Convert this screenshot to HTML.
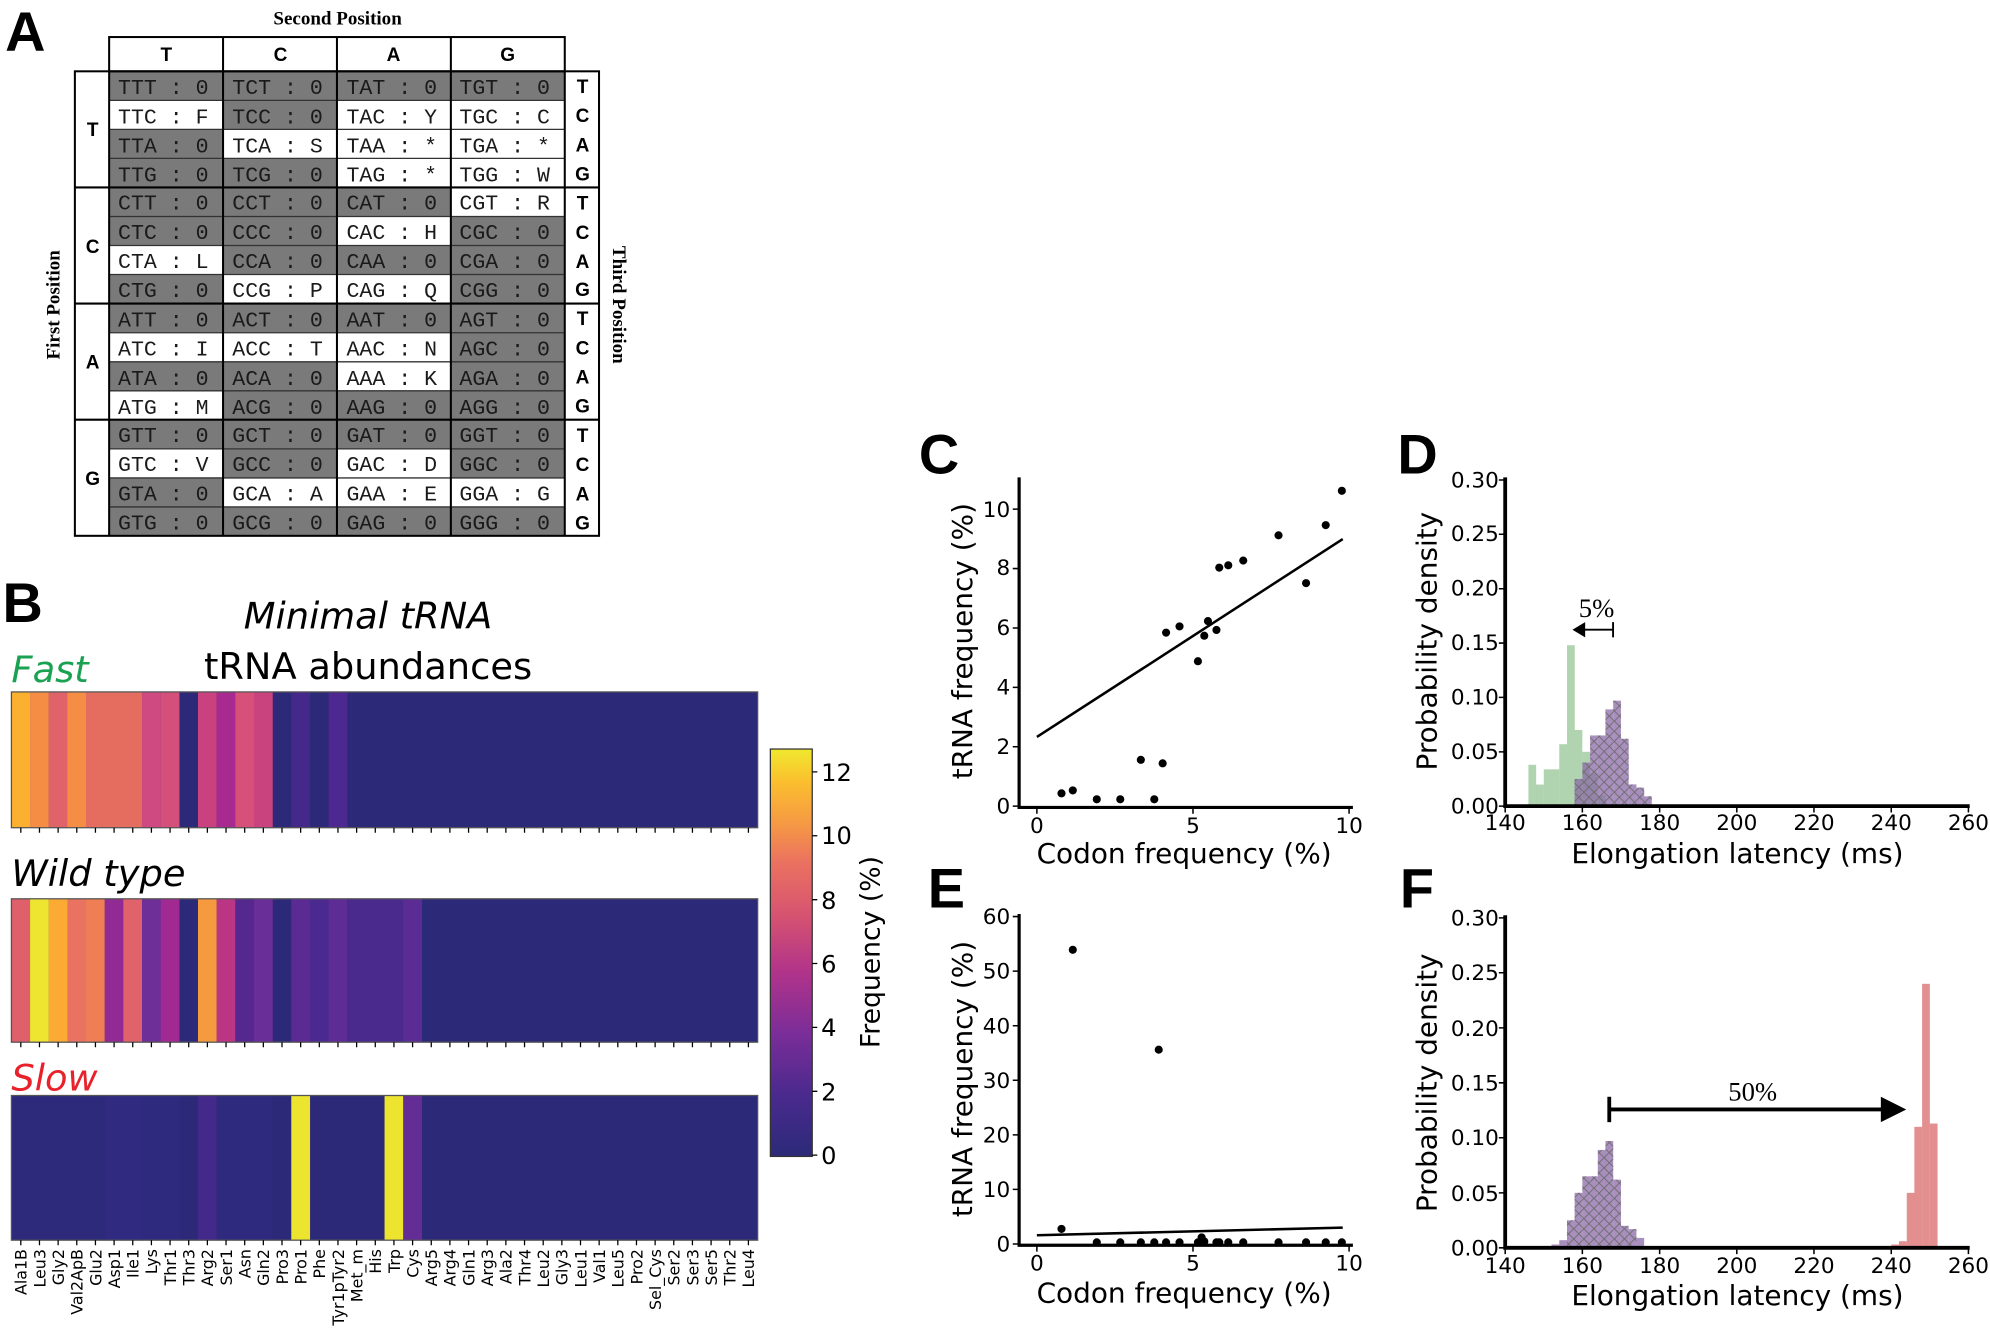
<!DOCTYPE html>
<html><head><meta charset="utf-8"><style>
html,body{margin:0;padding:0;background:#fff;}
svg{display:block;}
.m{font-family:"Liberation Mono",monospace;font-size:17px;fill:#1a1a1a;}
.b{font-family:"Liberation Sans",sans-serif;font-weight:bold;font-size:15px;}
.d{font-family:"DejaVu Sans","Liberation Sans",sans-serif;}
.lab{font-family:"Liberation Sans",sans-serif;font-weight:bold;font-size:44px;}
</style></head><body>
<svg width="1990" height="1328" viewBox="0 0 1568 1046" xmlns="http://www.w3.org/2000/svg">
<defs>
<pattern id="h" width="8" height="8" patternUnits="userSpaceOnUse">
<path d="M0,0L8,8M8,0L0,8" stroke="#6a6a6a" stroke-width="0.7"/>
</pattern>
<linearGradient id="cb" x1="0" y1="1" x2="0" y2="0">
<stop offset="0" stop-color="#2c2a78"/><stop offset="0.15" stop-color="#4a2a8e"/><stop offset="0.3" stop-color="#7a2d98"/><stop offset="0.45" stop-color="#b0338a"/><stop offset="0.6" stop-color="#d8556f"/><stop offset="0.72" stop-color="#ea7160"/><stop offset="0.82" stop-color="#f69a43"/><stop offset="0.92" stop-color="#fbbf2e"/><stop offset="1" stop-color="#f0e82e"/>
</linearGradient>
</defs>
<rect width="1568" height="1046" fill="#fff"/>

<!-- Panel A -->
<text x="4" y="40" class="lab">A</text>
<text x="266" y="19" text-anchor="middle" font-family="Liberation Serif,serif" font-weight="bold" font-size="15">Second Position</text>
<g fill="#7a7a7a">
<!-- gray cells -->
<rect x="86" y="56" width="359" height="366"/>
</g>
<g fill="#fff">
<!-- white cells: col x, row y -->
<rect x="86" y="78.9" width="89.75" height="22.9"/>
<rect x="175.75" y="101.75" width="89.75" height="22.9"/>
<rect x="265.5" y="78.9" width="89.75" height="68.6"/>
<rect x="355.25" y="78.9" width="89.75" height="68.6"/>
<rect x="86" y="193.25" width="89.75" height="22.9"/>
<rect x="175.75" y="216.1" width="89.75" height="22.9"/>
<rect x="265.5" y="170.4" width="89.75" height="22.9"/>
<rect x="265.5" y="216.1" width="89.75" height="22.9"/>
<rect x="355.25" y="147.5" width="89.75" height="22.9"/>
<rect x="86" y="262" width="89.75" height="22.9"/>
<rect x="86" y="307.75" width="89.75" height="22.9"/>
<rect x="175.75" y="262" width="89.75" height="22.9"/>
<rect x="265.5" y="262" width="89.75" height="45.75"/>
<rect x="86" y="353.5" width="89.75" height="22.9"/>
<rect x="175.75" y="376.4" width="89.75" height="22.9"/>
<rect x="265.5" y="353.5" width="89.75" height="45.75"/>
<rect x="355.25" y="376.4" width="89.75" height="22.9"/>
</g>
<g stroke="#333" stroke-width="1">
<line x1="86" y1="78.9" x2="445" y2="78.9"/><line x1="86" y1="101.75" x2="445" y2="101.75"/><line x1="86" y1="124.6" x2="445" y2="124.6"/>
<line x1="86" y1="170.4" x2="445" y2="170.4"/><line x1="86" y1="193.25" x2="445" y2="193.25"/><line x1="86" y1="216.1" x2="445" y2="216.1"/>
<line x1="86" y1="262" x2="445" y2="262"/><line x1="86" y1="284.9" x2="445" y2="284.9"/><line x1="86" y1="307.75" x2="445" y2="307.75"/>
<line x1="86" y1="353.5" x2="445" y2="353.5"/><line x1="86" y1="376.4" x2="445" y2="376.4"/><line x1="86" y1="399.25" x2="445" y2="399.25"/>
</g>
<g stroke="#000" stroke-width="1.6" fill="none">
<rect x="86" y="29" width="359" height="27"/>
<line x1="175.75" y1="29" x2="175.75" y2="422"/><line x1="265.5" y1="29" x2="265.5" y2="422"/><line x1="355.25" y1="29" x2="355.25" y2="422"/>
<rect x="59" y="56" width="413" height="366"/>
<line x1="86" y1="56" x2="86" y2="422"/><line x1="445" y1="56" x2="445" y2="422"/>
<line x1="59" y1="147.5" x2="472" y2="147.5"/><line x1="59" y1="239" x2="472" y2="239"/><line x1="59" y1="330.5" x2="472" y2="330.5"/>
</g>
<g class="b" text-anchor="middle">
<text x="131" y="48">T</text><text x="221" y="48">C</text><text x="310" y="48">A</text><text x="400" y="48">G</text>
<text x="73" y="107">T</text><text x="73" y="199">C</text><text x="73" y="290">A</text><text x="73" y="382">G</text>
<text x="459" y="73">T</text><text x="459" y="96">C</text><text x="459" y="119">A</text><text x="459" y="142">G</text>
<text x="459" y="165">T</text><text x="459" y="188">C</text><text x="459" y="211">A</text><text x="459" y="233">G</text>
<text x="459" y="256">T</text><text x="459" y="279">C</text><text x="459" y="302">A</text><text x="459" y="325">G</text>
<text x="459" y="348">T</text><text x="459" y="371">C</text><text x="459" y="394">A</text><text x="459" y="417">G</text>
</g>
<text transform="translate(47,240) rotate(-90)" text-anchor="middle" font-family="Liberation Serif,serif" font-weight="bold" font-size="15">First Position</text>
<text transform="translate(483,240) rotate(90)" text-anchor="middle" font-family="Liberation Serif,serif" font-weight="bold" font-size="15">Third Position</text>
<g class="m" xml:space="preserve">
<text x="93" y="74">TTT : 0</text><text x="183" y="74">TCT : 0</text><text x="273" y="74">TAT : 0</text><text x="362" y="74">TGT : 0</text>
<text x="93" y="97">TTC : F</text><text x="183" y="97">TCC : 0</text><text x="273" y="97">TAC : Y</text><text x="362" y="97">TGC : C</text>
<text x="93" y="120">TTA : 0</text><text x="183" y="120">TCA : S</text><text x="273" y="120">TAA : *</text><text x="362" y="120">TGA : *</text>
<text x="93" y="143">TTG : 0</text><text x="183" y="143">TCG : 0</text><text x="273" y="143">TAG : *</text><text x="362" y="143">TGG : W</text>
<text x="93" y="165">CTT : 0</text><text x="183" y="165">CCT : 0</text><text x="273" y="165">CAT : 0</text><text x="362" y="165">CGT : R</text>
<text x="93" y="188">CTC : 0</text><text x="183" y="188">CCC : 0</text><text x="273" y="188">CAC : H</text><text x="362" y="188">CGC : 0</text>
<text x="93" y="211">CTA : L</text><text x="183" y="211">CCA : 0</text><text x="273" y="211">CAA : 0</text><text x="362" y="211">CGA : 0</text>
<text x="93" y="234">CTG : 0</text><text x="183" y="234">CCG : P</text><text x="273" y="234">CAG : Q</text><text x="362" y="234">CGG : 0</text>
<text x="93" y="257">ATT : 0</text><text x="183" y="257">ACT : 0</text><text x="273" y="257">AAT : 0</text><text x="362" y="257">AGT : 0</text>
<text x="93" y="280">ATC : I</text><text x="183" y="280">ACC : T</text><text x="273" y="280">AAC : N</text><text x="362" y="280">AGC : 0</text>
<text x="93" y="303">ATA : 0</text><text x="183" y="303">ACA : 0</text><text x="273" y="303">AAA : K</text><text x="362" y="303">AGA : 0</text>
<text x="93" y="326">ATG : M</text><text x="183" y="326">ACG : 0</text><text x="273" y="326">AAG : 0</text><text x="362" y="326">AGG : 0</text>
<text x="93" y="348">GTT : 0</text><text x="183" y="348">GCT : 0</text><text x="273" y="348">GAT : 0</text><text x="362" y="348">GGT : 0</text>
<text x="93" y="371">GTC : V</text><text x="183" y="371">GCC : 0</text><text x="273" y="371">GAC : D</text><text x="362" y="371">GGC : 0</text>
<text x="93" y="394">GTA : 0</text><text x="183" y="394">GCA : A</text><text x="273" y="394">GAA : E</text><text x="362" y="394">GGA : G</text>
<text x="93" y="417">GTG : 0</text><text x="183" y="417">GCG : 0</text><text x="273" y="417">GAG : 0</text><text x="362" y="417">GGG : 0</text>
</g>

<!-- Panel B -->
<text x="2" y="490" class="lab">B</text>
<text x="290" y="495" text-anchor="middle" class="d" font-size="29" font-style="italic">Minimal tRNA</text>
<text x="290" y="535" text-anchor="middle" class="d" font-size="29">tRNA abundances</text>
<text x="9" y="537" class="d" font-size="29" font-style="italic" fill="#1aa152">Fast</text>
<text x="9" y="698" class="d" font-size="29" font-style="italic">Wild type</text>
<text x="9" y="859" class="d" font-size="29" font-style="italic" fill="#e8212b">Slow</text>

<!-- heatmap 1 -->
<g transform="translate(9,545)">
<rect width="588" height="107" fill="#2c2a78"/>
<rect x="0" width="14.8" height="107" fill="#fbb02f"/>
<rect x="14.7" width="14.8" height="107" fill="#f58d45"/>
<rect x="29.4" width="14.8" height="107" fill="#e0636a"/>
<rect x="44.1" width="14.8" height="107" fill="#f58d45"/>
<rect x="58.8" width="44.2" height="107" fill="#e56d60"/>
<rect x="102.9" width="14.8" height="107" fill="#ce4a80"/>
<rect x="117.6" width="14.8" height="107" fill="#d4507a"/>
<rect x="147" width="14.8" height="107" fill="#c9427f"/>
<rect x="161.7" width="14.8" height="107" fill="#a82a90"/>
<rect x="176.4" width="14.8" height="107" fill="#d6507a"/>
<rect x="191.1" width="14.8" height="107" fill="#c9437f"/>
<rect x="220.5" width="14.8" height="107" fill="#44288a"/>
<rect x="249.9" width="14.8" height="107" fill="#4c2890"/>
<rect width="588" height="107" fill="none" stroke="#555" stroke-width="1"/>
</g>
<!-- heatmap 2 -->
<g transform="translate(9,708)">
<rect width="588" height="113" fill="#2c2a78"/>
<rect x="0" width="14.8" height="113" fill="#df5f6a"/>
<rect x="14.7" width="14.8" height="113" fill="#eee531"/>
<rect x="29.4" width="14.8" height="113" fill="#fbaa33"/>
<rect x="44.1" width="14.8" height="113" fill="#ea7260"/>
<rect x="58.8" width="14.8" height="113" fill="#ef7e55"/>
<rect x="73.5" width="14.8" height="113" fill="#912a95"/>
<rect x="88.2" width="14.8" height="113" fill="#e0626a"/>
<rect x="102.9" width="14.8" height="113" fill="#6f2f98"/>
<rect x="117.6" width="14.8" height="113" fill="#a12a92"/>
<rect x="147" width="14.8" height="113" fill="#f69a40"/>
<rect x="161.7" width="14.8" height="113" fill="#bb3585"/>
<rect x="176.4" width="14.8" height="113" fill="#54288e"/>
<rect x="191.1" width="14.8" height="113" fill="#6a2e98"/>
<rect x="220.5" width="14.8" height="113" fill="#5b2a93"/>
<rect x="235.2" width="14.8" height="113" fill="#4a2a8e"/>
<rect x="249.9" width="14.8" height="113" fill="#5e2c95"/>
<rect x="264.6" width="44.2" height="113" fill="#4a2b8d"/>
<rect x="308.7" width="14.8" height="113" fill="#5b2c94"/>
<rect width="588" height="113" fill="none" stroke="#555" stroke-width="1"/>
</g>
<!-- heatmap 3 -->
<g transform="translate(9,863)">
<rect width="588" height="114" fill="#2c2a78"/>
<rect x="0" width="73.5" height="114" fill="#2d2a7c"/>
<rect x="73.5" width="29.4" height="114" fill="#302a80"/>
<rect x="102.9" width="29.4" height="114" fill="#2e2a7d"/>
<rect x="147" width="14.8" height="114" fill="#43298a"/>
<rect x="161.7" width="44" height="114" fill="#2e2a7e"/>
<rect x="220.5" width="14.8" height="114" fill="#ece42f"/>
<rect x="294" width="14.8" height="114" fill="#ece42f"/>
<rect x="308.7" width="14.8" height="114" fill="#642d96"/>
<rect width="588" height="114" fill="none" stroke="#555" stroke-width="1"/>
</g>
<!-- ticks -->
<g stroke="#000" stroke-width="1" id="tk">
<path d="M16.4,652v4M31.1,652v4M45.8,652v4M60.5,652v4M75.2,652v4M89.9,652v4M104.6,652v4M119.3,652v4M134,652v4M148.7,652v4M163.4,652v4M178.1,652v4M192.8,652v4M207.5,652v4M222.2,652v4M236.9,652v4M251.6,652v4M266.3,652v4M281,652v4M295.7,652v4M310.4,652v4M325.1,652v4M339.8,652v4M354.5,652v4M369.2,652v4M383.9,652v4M398.6,652v4M413.3,652v4M428,652v4M442.7,652v4M457.4,652v4M472.1,652v4M486.8,652v4M501.5,652v4M516.2,652v4M530.9,652v4M545.6,652v4M560.3,652v4M575,652v4M589.7,652v4"/>
<path transform="translate(0,169)" d="M16.4,652v4M31.1,652v4M45.8,652v4M60.5,652v4M75.2,652v4M89.9,652v4M104.6,652v4M119.3,652v4M134,652v4M148.7,652v4M163.4,652v4M178.1,652v4M192.8,652v4M207.5,652v4M222.2,652v4M236.9,652v4M251.6,652v4M266.3,652v4M281,652v4M295.7,652v4M310.4,652v4M325.1,652v4M339.8,652v4M354.5,652v4M369.2,652v4M383.9,652v4M398.6,652v4M413.3,652v4M428,652v4M442.7,652v4M457.4,652v4M472.1,652v4M486.8,652v4M501.5,652v4M516.2,652v4M530.9,652v4M545.6,652v4M560.3,652v4M575,652v4M589.7,652v4"/>
<path transform="translate(0,325)" d="M16.4,652v4M31.1,652v4M45.8,652v4M60.5,652v4M75.2,652v4M89.9,652v4M104.6,652v4M119.3,652v4M134,652v4M148.7,652v4M163.4,652v4M178.1,652v4M192.8,652v4M207.5,652v4M222.2,652v4M236.9,652v4M251.6,652v4M266.3,652v4M281,652v4M295.7,652v4M310.4,652v4M325.1,652v4M339.8,652v4M354.5,652v4M369.2,652v4M383.9,652v4M398.6,652v4M413.3,652v4M428,652v4M442.7,652v4M457.4,652v4M472.1,652v4M486.8,652v4M501.5,652v4M516.2,652v4M530.9,652v4M545.6,652v4M560.3,652v4M575,652v4M589.7,652v4"/>
</g>
<g class="d" font-size="12.5" text-anchor="end">
<text transform="translate(21,984) rotate(-90)">Ala1B</text>
<text transform="translate(35.7,984) rotate(-90)">Leu3</text>
<text transform="translate(50.4,984) rotate(-90)">Gly2</text>
<text transform="translate(65.1,984) rotate(-90)">Val2ApB</text>
<text transform="translate(79.8,984) rotate(-90)">Glu2</text>
<text transform="translate(94.5,984) rotate(-90)">Asp1</text>
<text transform="translate(109.2,984) rotate(-90)">Ile1</text>
<text transform="translate(123.9,984) rotate(-90)">Lys</text>
<text transform="translate(138.6,984) rotate(-90)">Thr1</text>
<text transform="translate(153.3,984) rotate(-90)">Thr3</text>
<text transform="translate(168,984) rotate(-90)">Arg2</text>
<text transform="translate(182.7,984) rotate(-90)">Ser1</text>
<text transform="translate(197.4,984) rotate(-90)">Asn</text>
<text transform="translate(212.1,984) rotate(-90)">Gln2</text>
<text transform="translate(226.8,984) rotate(-90)">Pro3</text>
<text transform="translate(241.5,984) rotate(-90)">Pro1</text>
<text transform="translate(256.2,984) rotate(-90)">Phe</text>
<text transform="translate(270.9,984) rotate(-90)">Tyr1pTyr2</text>
<text transform="translate(285.6,984) rotate(-90)">Met_m</text>
<text transform="translate(300.3,984) rotate(-90)">His</text>
<text transform="translate(315,984) rotate(-90)">Trp</text>
<text transform="translate(329.7,984) rotate(-90)">Cys</text>
<text transform="translate(344.4,984) rotate(-90)">Arg5</text>
<text transform="translate(359.1,984) rotate(-90)">Arg4</text>
<text transform="translate(373.8,984) rotate(-90)">Gln1</text>
<text transform="translate(388.5,984) rotate(-90)">Arg3</text>
<text transform="translate(403.2,984) rotate(-90)">Ala2</text>
<text transform="translate(417.9,984) rotate(-90)">Thr4</text>
<text transform="translate(432.6,984) rotate(-90)">Leu2</text>
<text transform="translate(447.3,984) rotate(-90)">Gly3</text>
<text transform="translate(462,984) rotate(-90)">Leu1</text>
<text transform="translate(476.7,984) rotate(-90)">Val1</text>
<text transform="translate(491.4,984) rotate(-90)">Leu5</text>
<text transform="translate(506.1,984) rotate(-90)">Pro2</text>
<text transform="translate(520.8,984) rotate(-90)">Sel_Cys</text>
<text transform="translate(535.5,984) rotate(-90)">Ser2</text>
<text transform="translate(550.2,984) rotate(-90)">Ser3</text>
<text transform="translate(564.9,984) rotate(-90)">Ser5</text>
<text transform="translate(579.6,984) rotate(-90)">Thr2</text>
<text transform="translate(594.3,984) rotate(-90)">Leu4</text>
</g>
<!-- colorbar -->
<rect x="607" y="590" width="33" height="321" fill="url(#cb)" stroke="#333" stroke-width="1"/>
<g stroke="#000" stroke-width="1"><path d="M640,910h4M640,859.7h4M640,809.3h4M640,759h4M640,708.7h4M640,658.3h4M640,608h4"/></g>
<g class="d" font-size="19">
<text x="647" y="917">0</text><text x="647" y="867">2</text><text x="647" y="816">4</text><text x="647" y="766">6</text><text x="647" y="716">8</text><text x="647" y="665">10</text><text x="647" y="615">12</text>
</g>
<text transform="translate(693,750) rotate(-90)" text-anchor="middle" class="d" font-size="21">Frequency (%)</text>

<!-- Panel C -->
<text x="724" y="373" class="lab">C</text>
<g stroke="#000" stroke-width="2.5" fill="none"><path d="M803,376V636H1066"/></g>
<g stroke="#000" stroke-width="1.2"><path d="M817,636v5M940,636v5M1063,636v5M803,635h-5M803,588.2h-5M803,541.4h-5M803,494.6h-5M803,447.8h-5M803,401h-5"/></g>
<g class="d" font-size="17" text-anchor="middle"><text x="817" y="656">0</text><text x="940" y="656">5</text><text x="1063" y="656">10</text></g>
<g class="d" font-size="17" text-anchor="end"><text x="796" y="641">0</text><text x="796" y="594">2</text><text x="796" y="547">4</text><text x="796" y="500">6</text><text x="796" y="453">8</text><text x="796" y="407">10</text></g>
<text x="933" y="680" text-anchor="middle" class="d" font-size="22">Codon frequency (%)</text>
<text transform="translate(766,505) rotate(-90)" text-anchor="middle" class="d" font-size="22">tRNA frequency (%)</text>
<line x1="817" y1="580.5" x2="1058" y2="424.6" stroke="#000" stroke-width="2"/>
<g fill="#000">
<circle cx="836.4" cy="624.9" r="3.2"/><circle cx="845.3" cy="622.6" r="3.2"/><circle cx="864.2" cy="629.6" r="3.2"/><circle cx="882.7" cy="629.6" r="3.2"/><circle cx="898.9" cy="598.5" r="3.2"/><circle cx="909.5" cy="629.6" r="3.2"/><circle cx="916.1" cy="601.3" r="3.2"/><circle cx="918.8" cy="498.3" r="3.2"/><circle cx="929.4" cy="493.4" r="3.2"/><circle cx="943.9" cy="520.8" r="3.2"/><circle cx="948.9" cy="500.7" r="3.2"/><circle cx="951.8" cy="489.2" r="3.2"/><circle cx="958.5" cy="496.2" r="3.2"/><circle cx="960.7" cy="447.1" r="3.2"/><circle cx="967.8" cy="445.2" r="3.2"/><circle cx="979.6" cy="441.5" r="3.2"/><circle cx="1007.4" cy="421.6" r="3.2"/><circle cx="1029.1" cy="459.3" r="3.2"/><circle cx="1044.6" cy="413.6" r="3.2"/><circle cx="1057.3" cy="386.5" r="3.2"/>
</g>

<!-- Panel E -->
<text x="731" y="715" class="lab">E</text>
<g stroke="#000" stroke-width="2.5" fill="none"><path d="M803,720V981H1066"/></g>
<g stroke="#000" stroke-width="1.2"><path d="M817,981v5M940,981v5M1063,981v5M803,980h-5M803,937h-5M803,894h-5M803,851h-5M803,808h-5M803,765h-5M803,722h-5"/></g>
<g class="d" font-size="17" text-anchor="middle"><text x="817" y="1001">0</text><text x="940" y="1001">5</text><text x="1063" y="1001">10</text></g>
<g class="d" font-size="17" text-anchor="end"><text x="796" y="986">0</text><text x="796" y="943">10</text><text x="796" y="900">20</text><text x="796" y="857">30</text><text x="796" y="814">40</text><text x="796" y="771">50</text><text x="796" y="728">60</text></g>
<text x="933" y="1026" text-anchor="middle" class="d" font-size="22">Codon frequency (%)</text>
<text transform="translate(766,850) rotate(-90)" text-anchor="middle" class="d" font-size="22">tRNA frequency (%)</text>
<line x1="817" y1="973.1" x2="1058" y2="967.1" stroke="#000" stroke-width="2"/>
<g fill="#000">
<circle cx="836.4" cy="968.1" r="3.2"/><circle cx="845.3" cy="748.2" r="3.2"/><circle cx="913" cy="826.9" r="3.2"/>
<circle cx="864.2" cy="978.7" r="3.2"/><circle cx="882.7" cy="978.7" r="3.2"/><circle cx="898.9" cy="978.7" r="3.2"/><circle cx="909.5" cy="978.7" r="3.2"/><circle cx="918.8" cy="978.7" r="3.2"/><circle cx="929.4" cy="978.7" r="3.2"/><circle cx="943.9" cy="978.7" r="3.2"/><circle cx="948.9" cy="978" r="3.2"/><circle cx="946.8" cy="974.8" r="3.2"/><circle cx="958.5" cy="978.7" r="3.2"/><circle cx="960.7" cy="978.7" r="3.2"/><circle cx="967.8" cy="978.7" r="3.2"/><circle cx="979.6" cy="978.7" r="3.2"/><circle cx="1007.4" cy="978.7" r="3.2"/><circle cx="1029.1" cy="978.7" r="3.2"/><circle cx="1044.6" cy="978.7" r="3.2"/><circle cx="1057.3" cy="978.7" r="3.2"/>
</g>

<!-- Panel D -->
<text x="1101" y="373" class="lab">D</text>
<g fill="#8fc08f" fill-opacity="0.7">
<rect x="1204.3" y="602.4" width="6.1" height="32.6"/><rect x="1210.3" y="618" width="6.1" height="17"/><rect x="1216.4" y="606" width="6.1" height="29"/><rect x="1222.5" y="606" width="6.1" height="29"/><rect x="1228.6" y="586.2" width="6.1" height="48.8"/><rect x="1234.7" y="508.2" width="6.1" height="126.8"/><rect x="1240.7" y="575" width="6.1" height="60"/><rect x="1246.8" y="592.2" width="6.1" height="42.8"/><rect x="1252.9" y="609.3" width="6.1" height="25.7"/><rect x="1259" y="626.4" width="6.1" height="8.6"/>
</g>
<g id="pur">
<g fill="#8c6aa8" fill-opacity="0.75">
<rect x="1240.7" y="613.6" width="6.1" height="21.4"/><rect x="1246.8" y="600.7" width="6.1" height="34.3"/><rect x="1252.9" y="579.3" width="6.1" height="55.7"/><rect x="1259" y="579.3" width="6.1" height="55.7"/><rect x="1265" y="558.8" width="6.1" height="76.2"/><rect x="1271.1" y="551.9" width="6.1" height="83.1"/><rect x="1277.2" y="581.9" width="6.1" height="53.1"/><rect x="1283.3" y="617.9" width="6.1" height="17.1"/><rect x="1289.4" y="620.4" width="6.1" height="14.6"/><rect x="1295.4" y="627.3" width="6.1" height="7.7"/>
</g>
<g fill="url(#h)">
<rect x="1240.7" y="613.6" width="6.1" height="21.4"/><rect x="1246.8" y="600.7" width="6.1" height="34.3"/><rect x="1252.9" y="579.3" width="6.1" height="55.7"/><rect x="1259" y="579.3" width="6.1" height="55.7"/><rect x="1265" y="558.8" width="6.1" height="76.2"/><rect x="1271.1" y="551.9" width="6.1" height="83.1"/><rect x="1277.2" y="581.9" width="6.1" height="53.1"/><rect x="1283.3" y="617.9" width="6.1" height="17.1"/><rect x="1289.4" y="620.4" width="6.1" height="14.6"/><rect x="1295.4" y="627.3" width="6.1" height="7.7"/>
</g>
</g>
<g stroke="#000" stroke-width="3" fill="none"><path d="M1186,376V635H1552"/></g>
<g stroke="#000" stroke-width="1.2"><path d="M1186,635v5M1246.8,635v5M1307.7,635v5M1368.5,635v5M1429.3,635v5M1490.2,635v5M1551,635v5M1186,635h-5M1186,592.2h-5M1186,549.3h-5M1186,506.5h-5M1186,463.7h-5M1186,420.8h-5M1186,378h-5"/></g>
<g class="d" font-size="17" text-anchor="middle"><text x="1186" y="654">140</text><text x="1246.8" y="654">160</text><text x="1307.7" y="654">180</text><text x="1368.5" y="654">200</text><text x="1429.3" y="654">220</text><text x="1490.2" y="654">240</text><text x="1551" y="654">260</text></g>
<g class="d" font-size="17" text-anchor="end"><text x="1181" y="641">0.00</text><text x="1181" y="598">0.05</text><text x="1181" y="555">0.10</text><text x="1181" y="512">0.15</text><text x="1181" y="469">0.20</text><text x="1181" y="426">0.25</text><text x="1181" y="384">0.30</text></g>
<text x="1369" y="680" text-anchor="middle" class="d" font-size="22">Elongation latency (ms)</text>
<text transform="translate(1132,505) rotate(-90)" text-anchor="middle" class="d" font-size="22">Probability density</text>
<text x="1258" y="486" text-anchor="middle" font-family="Liberation Serif,serif" font-size="21">5%</text>
<g stroke="#000" stroke-width="1.5"><line x1="1247" y1="496" x2="1271" y2="496"/><line x1="1271" y1="490" x2="1271" y2="502"/></g>
<path d="M1239,496l10,-6v12z" fill="#000"/>

<!-- Panel F -->
<text x="1103" y="715" class="lab">F</text>
<g fill="#8c6aa8" fill-opacity="0.75">
<rect x="1222.5" y="980.4" width="6.1" height="2.6"/><rect x="1228.6" y="977" width="6.1" height="6"/><rect x="1234.7" y="961.3" width="6.1" height="21.7"/><rect x="1240.7" y="939.7" width="6.1" height="43.3"/><rect x="1246.8" y="926.7" width="6.1" height="56.3"/><rect x="1252.9" y="926.7" width="6.1" height="56.3"/><rect x="1259" y="905.9" width="6.1" height="77.1"/><rect x="1265" y="898.9" width="6.1" height="84.1"/><rect x="1271.1" y="929.3" width="6.1" height="53.7"/><rect x="1277.2" y="965.7" width="6.1" height="17.3"/><rect x="1283.3" y="968.3" width="6.1" height="14.7"/><rect x="1289.4" y="975.2" width="6.1" height="7.8"/>
</g>
<g fill="url(#h)">
<rect x="1234.7" y="961.3" width="6.1" height="21.7"/><rect x="1240.7" y="939.7" width="6.1" height="43.3"/><rect x="1246.8" y="926.7" width="6.1" height="56.3"/><rect x="1252.9" y="926.7" width="6.1" height="56.3"/><rect x="1259" y="905.9" width="6.1" height="77.1"/><rect x="1265" y="898.9" width="6.1" height="84.1"/><rect x="1271.1" y="929.3" width="6.1" height="53.7"/><rect x="1277.2" y="965.7" width="6.1" height="17.3"/><rect x="1283.3" y="968.3" width="6.1" height="14.7"/>
</g>
<g fill="#d9696a" fill-opacity="0.75">
<rect x="1490.2" y="980.4" width="6.1" height="2.6"/><rect x="1496.3" y="977.8" width="6.1" height="5.2"/><rect x="1502.4" y="939.7" width="6.1" height="43.3"/><rect x="1508.4" y="887.7" width="6.1" height="95.3"/><rect x="1514.5" y="775" width="6.1" height="208"/><rect x="1520.6" y="885.1" width="6.1" height="97.9"/>
</g>
<g stroke="#000" stroke-width="3" fill="none"><path d="M1186,721V983H1552"/></g>
<g stroke="#000" stroke-width="1.2"><path d="M1186,983v5M1246.8,983v5M1307.7,983v5M1368.5,983v5M1429.3,983v5M1490.2,983v5M1551,983v5M1186,983h-5M1186,939.7h-5M1186,896.3h-5M1186,853h-5M1186,809.7h-5M1186,766.3h-5M1186,723h-5"/></g>
<g class="d" font-size="17" text-anchor="middle"><text x="1186" y="1003">140</text><text x="1246.8" y="1003">160</text><text x="1307.7" y="1003">180</text><text x="1368.5" y="1003">200</text><text x="1429.3" y="1003">220</text><text x="1490.2" y="1003">240</text><text x="1551" y="1003">260</text></g>
<g class="d" font-size="17" text-anchor="end"><text x="1181" y="989">0.00</text><text x="1181" y="946">0.05</text><text x="1181" y="902">0.10</text><text x="1181" y="859">0.15</text><text x="1181" y="816">0.20</text><text x="1181" y="772">0.25</text><text x="1181" y="729">0.30</text></g>
<text x="1369" y="1028" text-anchor="middle" class="d" font-size="22">Elongation latency (ms)</text>
<text transform="translate(1132,853) rotate(-90)" text-anchor="middle" class="d" font-size="22">Probability density</text>
<text x="1381" y="867" text-anchor="middle" font-family="Liberation Serif,serif" font-size="21">50%</text>
<g stroke="#000" stroke-width="3"><line x1="1268" y1="874" x2="1484" y2="874"/><line x1="1268" y1="864" x2="1268" y2="884"/></g>
<path d="M1502,874l-20,-10v20z" fill="#000"/>
</svg>
</body></html>
